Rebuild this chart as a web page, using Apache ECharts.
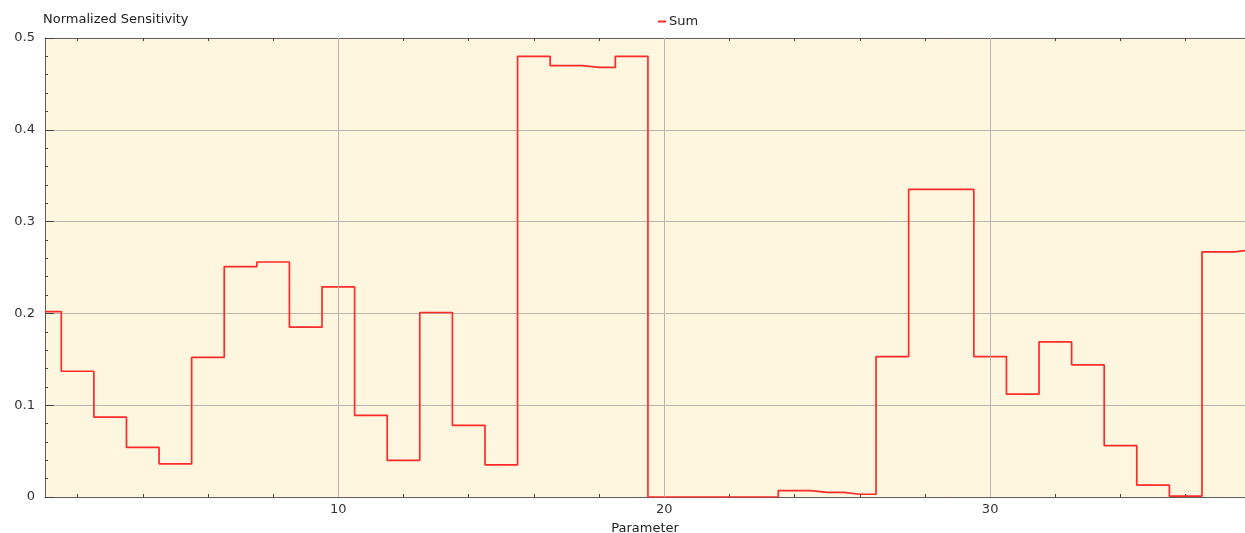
<!DOCTYPE html>
<html>
<head>
<meta charset="utf-8">
<script src="https://cdn.jsdelivr.net/npm/echarts@6/dist/echarts.min.js"></script>
<style>
  html, body { margin: 0; padding: 0; background: #fff; }
  #chart { width: 1245px; height: 533px; }
</style>
</head>
<body>
<div id="chart"></div>
<script>
// parametres 1..38 et sensibilite normalisee
const parametres = [1, 2, 3, 4, 5, 6, 7, 8, 9, 10, 11, 12, 13, 14, 15, 16, 17, 18, 19,
    20, 21, 22, 23, 24, 25, 26, 27, 28, 29, 30, 31, 32, 33, 34, 35, 36, 37, 38];
const sensibilite = [0.202, 0.137, 0.087, 0.054, 0.036, 0.152, 0.251, 0.256, 0.185, 0.229,
    0.089, 0.040, 0.201, 0.078, 0.035, 0.480, 0.470, 0.468, 0.480,
    0, 0, 0, 0, 0.007, 0.005, 0.003, 0.153, 0.335, 0.335, 0.153,
    0.112, 0.169, 0.144, 0.056, 0.013, 0.001, 0.267, 0.269];
const xMajeurs = [10, 20, 30];
const xMineurs = [2, 4, 6, 8, 12, 14, 16, 18, 22, 24, 26, 28, 32, 34, 36];
const xMin = 1, xMax = 37.82;

window.onload = init;

let chart;

function init() {
    chart = echarts.init(document.getElementById('chart'));
    const police = 'DejaVu Sans';
    const gris = '#5e5e5e';

    function axeX(position, majeur, labels) {
        return {
            type: 'value', position: position, min: xMin, max: xMax,
            axisLine: { show: majeur, onZero: false, lineStyle: { color: gris, width: 1 } },
            axisTick: {
                inside: true, length: majeur ? 6 : 3,
                customValues: majeur ? xMajeurs : xMineurs,
                lineStyle: { color: '#444' }
            },
            axisLabel: labels ? {
                customValues: xMajeurs, color: '#333', fontSize: 13, fontFamily: police, margin: 6
            } : { show: false },
            splitLine: { show: false },
            name: labels ? 'Parameter' : '',
            nameLocation: 'middle', nameGap: 25,
            nameTextStyle: { color: '#222', fontSize: 13, fontFamily: police }
        };
    }

    let data = parametres.map((p, i) => [p, sensibilite[i]]);

    let options = {
        animation: false,
        title: {
            text: 'Normalized Sensitivity', left: 38, top: 8,
            textStyle: { fontSize: 13, fontWeight: 'normal', color: '#222', fontFamily: police }
        },
        legend: {
            data: ['Sum'], left: 653, top: 10, icon: 'rect', itemWidth: 8, itemHeight: 2, itemGap: 3,
            textStyle: { fontSize: 13, color: '#222', fontFamily: police, padding: [0, 0, 0, -2] }
        },
        grid: {
            left: 45, right: 0, top: 38, bottom: 36, show: true, backgroundColor: '#fef6df', borderWidth: 0,
            outerBoundsMode: 'none', containLabel: false
        },
        xAxis: [
            axeX('bottom', true, true),
            axeX('bottom', false, false),
            axeX('top', true, false),
            axeX('top', false, false)
        ],
        yAxis: {
            type: 'value', min: 0, max: 0.5, interval: 0.1,
            axisLine: { show: true, lineStyle: { color: gris } },
            axisTick: { inside: true, length: 9, lineStyle: { color: '#444' } },
            minorTick: { show: true, splitNumber: 5, length: 3, lineStyle: { color: '#444' } },
            axisLabel: {
                color: '#333', fontSize: 13, fontFamily: police, margin: 10,
                formatter: v => (v === 0 ? '0' : String(+v.toFixed(1)))
            },
            splitLine: { show: true, lineStyle: { color: '#b9b6b0', width: 1 } }
        },
        series: [
            {
                name: 'Sum', type: 'line', step: 'middle', data: data,
                symbol: 'none', xAxisIndex: 0,
                lineStyle: { color: '#ff2a2a', width: 1.7 },
                itemStyle: { color: '#ff2a2a' },
                markLine: {
                    silent: true, symbol: 'none', label: { show: false },
                    lineStyle: { color: '#b9b6b0', type: 'solid', width: 1 },
                    data: xMajeurs.map(v => ({ xAxis: v }))
                },
                z: 3
            }
        ]
    };

    chart.setOption(options);
}
</script>
</body>
</html>
